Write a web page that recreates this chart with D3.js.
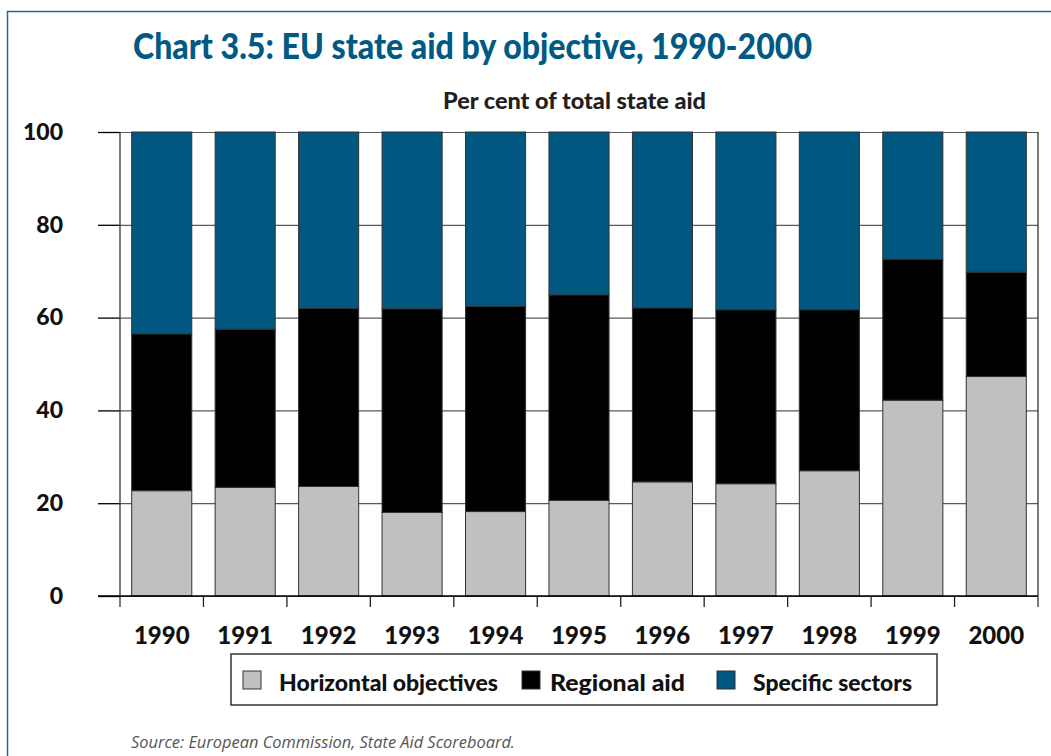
<!DOCTYPE html>
<html>
<head>
<meta charset="utf-8">
<script src="https://cdn.jsdelivr.net/npm/d3@7"></script>
<style>
  html, body { margin: 0; padding: 0; background: #fff; }
  svg { display: block; }
</style>
</head>
<body>
<svg id="chart" width="1051" height="756"></svg>
<script>
// Share of total EU state aid by objective (per cent)
const years = ["1990","1991","1992","1993","1994","1995","1996","1997","1998","1999","2000"];
const horizontal = [22.7, 23.4, 23.6, 18.0, 18.2, 20.6, 24.6, 24.2, 27.0, 42.2, 47.3];
const regional   = [33.8, 34.1, 38.4, 43.9, 44.2, 44.3, 37.5, 37.5, 34.7, 30.4, 22.5];
const sectors    = [43.5, 42.5, 38.0, 38.1, 37.6, 35.1, 37.9, 38.3, 38.3, 27.4, 30.2];
const seriesNames = ["Horizontal objectives", "Regional aid", "Specific sectors"];
const seriesColors = ["#c0c0c0", "#000000", "#00577f"];
const yTicks = [0, 20, 40, 60, 80, 100];

const rows = years.map((yr, i) => ({
  year: yr,
  "Horizontal objectives": horizontal[i],
  "Regional aid": regional[i],
  "Specific sectors": sectors[i]
}));

const svg = d3.select("#chart");
const font = "Lato, 'Open Sans', sans-serif";
const heavy = 900;

// outer frame
svg.append("rect")
  .attr("x", 7.5).attr("y", 11.5)
  .attr("width", 1070).attr("height", 780)
  .attr("fill", "none").attr("stroke", "#1d6a99").attr("stroke-width", 1.5);

// title and subtitle
svg.append("text")
  .attr("x", 133).attr("y", 59)
  .attr("font-family", font).attr("font-weight", heavy).attr("font-size", 36)
  .attr("fill", "#005a84")
  .attr("textLength", 679).attr("lengthAdjust", "spacingAndGlyphs")
  .text("Chart 3.5: EU state aid by objective, 1990-2000");

svg.append("text")
  .attr("x", 443).attr("y", 109)
  .attr("font-family", font).attr("font-weight", heavy).attr("font-size", 22)
  .attr("fill", "#231f20")
  .attr("textLength", 263).attr("lengthAdjust", "spacingAndGlyphs")
  .text("Per cent of total state aid");

// scales
const plotLeft = 120, plotRight = 1038, plotTop = 132, plotBottom = 596;
const x = d3.scaleBand().domain(years).range([plotLeft, plotRight])
  .paddingInner(0.28).paddingOuter(0.14);
const y = d3.scaleLinear().domain([0, 100]).range([plotBottom, plotTop]);

// horizontal gridlines
const grid = svg.append("g").attr("transform", `translate(${plotLeft},0)`)
  .call(d3.axisLeft(y).tickValues(yTicks).tickSize(-(plotRight - plotLeft)).tickFormat(""));
grid.select(".domain").remove();
grid.selectAll(".tick line").attr("stroke", "#5a5a5a").attr("stroke-width", 1.2);

// stacked bars
const stack = d3.stack().keys(seriesNames)(rows);
const color = d3.scaleOrdinal().domain(seriesNames).range(seriesColors);

svg.append("g").selectAll("g")
  .data(stack).join("g")
  .attr("fill", d => color(d.key))
  .selectAll("rect")
  .data(d => d).join("rect")
  .attr("x", d => x(d.data.year))
  .attr("y", d => y(d[1]))
  .attr("width", x.bandwidth())
  .attr("height", d => y(d[0]) - y(d[1]))
  .attr("stroke", "#333")
  .attr("stroke-width", 1);

// y axis: ticks and labels
const yAxis = svg.append("g").attr("transform", `translate(${plotLeft},0)`)
  .call(d3.axisLeft(y).tickValues(yTicks).tickSize(22).tickPadding(35));
yAxis.select(".domain").remove();
yAxis.selectAll(".tick line").attr("stroke", "#000").attr("stroke-width", 1.3);
yAxis.selectAll(".tick text")
  .attr("font-family", font).attr("font-weight", heavy).attr("font-size", 23)
  .attr("fill", "#111");

// frame lines of the plot
svg.append("line").attr("x1", plotLeft).attr("x2", plotLeft).attr("y1", plotTop).attr("y2", plotBottom + 11)
  .attr("stroke", "#333").attr("stroke-width", 1.3);
svg.append("line").attr("x1", plotRight).attr("x2", plotRight).attr("y1", plotTop).attr("y2", plotBottom + 11)
  .attr("stroke", "#333").attr("stroke-width", 1.3);
svg.append("line").attr("x1", plotLeft - 22).attr("x2", plotRight).attr("y1", plotBottom).attr("y2", plotBottom)
  .attr("stroke", "#000").attr("stroke-width", 1.3);

// x axis: category labels and boundary ticks
const xAxis = svg.append("g").attr("transform", `translate(0,${plotBottom})`)
  .call(d3.axisBottom(x).tickSize(0).tickPadding(31));
xAxis.select(".domain").remove();
xAxis.selectAll(".tick text")
  .attr("font-family", font).attr("font-weight", heavy).attr("font-size", 24)
  .attr("fill", "#111");

const boundaries = years.slice(1).map(yr => x(yr) - x.step() * x.paddingInner() / 2);
svg.append("g").selectAll("line").data(boundaries).join("line")
  .attr("x1", d => d).attr("x2", d => d)
  .attr("y1", plotBottom).attr("y2", plotBottom + 11)
  .attr("stroke", "#222").attr("stroke-width", 1.3);

// legend
const legend = svg.append("g");
legend.append("rect")
  .attr("x", 231).attr("y", 654).attr("width", 706).attr("height", 51)
  .attr("fill", "#fff").attr("stroke", "#333").attr("stroke-width", 1.5);
const legendItems = [
  { name: seriesNames[0], sx: 243, tx: 279, w: 219 },
  { name: seriesNames[1], sx: 522, tx: 550, w: 135 },
  { name: seriesNames[2], sx: 717, tx: 753, w: 159 }
];
legendItems.forEach(it => {
  legend.append("rect")
    .attr("x", it.sx).attr("y", 671).attr("width", 18).attr("height", 18)
    .attr("fill", color(it.name)).attr("stroke", "#333").attr("stroke-width", 1);
  legend.append("text")
    .attr("x", it.tx).attr("y", 691)
    .attr("font-family", font).attr("font-weight", heavy).attr("font-size", 23)
    .attr("fill", "#111")
    .attr("textLength", it.w).attr("lengthAdjust", "spacingAndGlyphs")
    .text(it.name);
});

// source note
svg.append("text")
  .attr("x", 131).attr("y", 748)
  .attr("font-family", "'Open Sans', sans-serif").attr("font-style", "italic")
  .attr("font-size", 15.5).attr("fill", "#555")
  .attr("textLength", 384).attr("lengthAdjust", "spacingAndGlyphs")
  .text("Source: European Commission, State Aid Scoreboard.");
</script>
</body>
</html>
